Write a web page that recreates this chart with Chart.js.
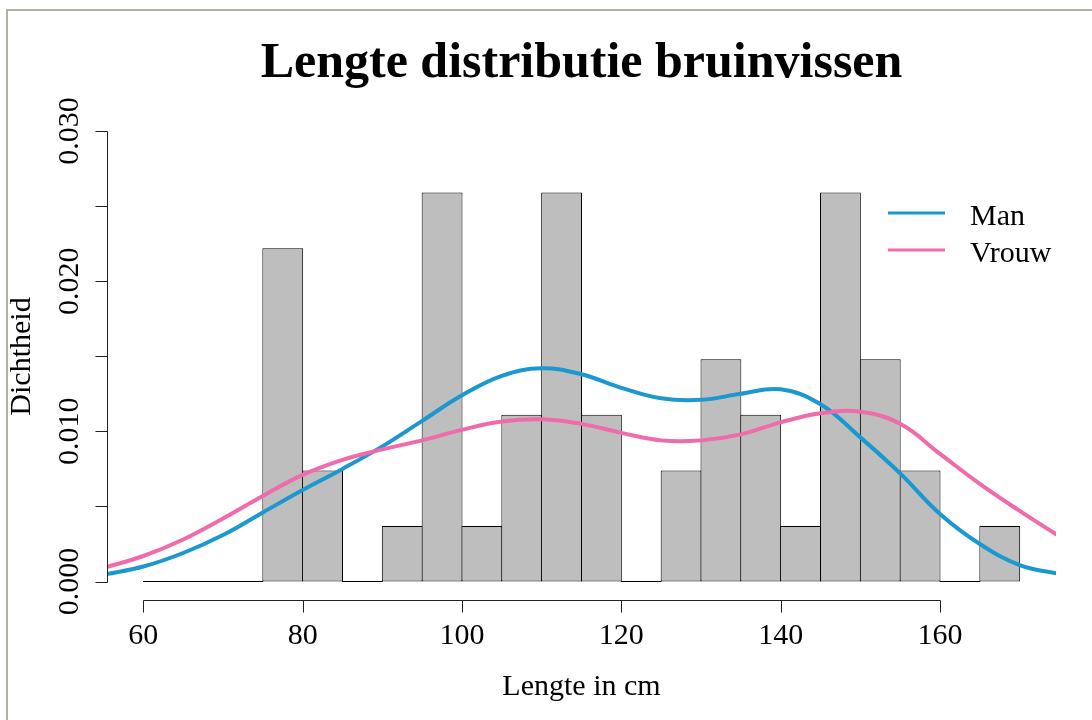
<!DOCTYPE html>
<html lang="nl">
<head>
<meta charset="UTF-8" />
<title>Lengte distributie bruinvissen</title>
<style>
  body { margin: 0; background: #fff; }
  #wrap { width: 1092px; height: 720px; }
</style>
</head>
<body>
<div id="wrap"><canvas id="chart" width="1092" height="720"></canvas></div>

<script src="https://cdn.jsdelivr.net/npm/chart.js"></script>
<script>
  // Histogram: 5 cm bins from 60 to 170 (density)
  const binMids = [62.5, 67.5, 72.5, 77.5, 82.5, 87.5, 92.5, 97.5, 102.5, 107.5, 112.5,
                   117.5, 122.5, 127.5, 132.5, 137.5, 142.5, 147.5, 152.5, 157.5, 162.5, 167.5];
  const histDensity = [0, 0, 0, 0.0222, 0.0074, 0, 0.0037, 0.0259, 0.0037, 0.0111, 0.0259,
                       0.0111, 0, 0.0074, 0.0148, 0.0111, 0.0037, 0.0259, 0.0148, 0.0074, 0, 0.0037];

  // Density curves
  const densX = [55, 60, 65, 70, 75, 80, 85, 90, 95, 100, 105, 110, 115, 120,
                 125, 130, 135, 140, 145, 150, 155, 160, 165, 170, 175];
  const manY = [0.00045, 0.0010, 0.0019, 0.0031, 0.0046, 0.0061, 0.0075, 0.0090, 0.0107,
                0.0124, 0.0137, 0.0142, 0.0138, 0.0129, 0.0122, 0.0121, 0.0125, 0.0128,
                0.0118, 0.0096, 0.0072, 0.0045, 0.0025, 0.0011, 0.0005];
  const vrouwY = [0.0009, 0.0017, 0.0028, 0.0042, 0.0057, 0.0071, 0.0081, 0.0088, 0.0094,
                  0.0101, 0.01065, 0.0108, 0.0105, 0.0099, 0.0094, 0.0094, 0.0098, 0.0106,
                  0.0112, 0.0113, 0.0105, 0.0085, 0.0065, 0.0047, 0.003];

  // Axis ticks
  const xTicks = [60, 80, 100, 120, 140, 160];
  const yTicks = [0, 0.005, 0.01, 0.015, 0.02, 0.025, 0.03];
  const yTickLabels = ['0.000', '', '0.010', '', '0.020', '', '0.030'];

  const serif = "'Liberation Serif', 'Times New Roman', serif";
  const blue = '#1B98D0';
  const pink = '#EF6BAA';

  // R-style detached axes, frame and legend
  const rStyle = {
    id: 'rStyle',
    beforeDraw(chart) {
      const c = chart.ctx;
      c.save();
      c.fillStyle = '#fff';
      c.fillRect(0, 0, chart.width, chart.height);
      c.strokeStyle = '#b3b0a3';
      c.lineWidth = 2;
      c.beginPath();
      c.moveTo(6, 10); c.lineTo(chart.width, 10);
      c.moveTo(7, 9); c.lineTo(7, chart.height);
      c.stroke();
      c.restore();
    },
    afterDraw(chart) {
      const c = chart.ctx;
      const xs = chart.scales.x, ys = chart.scales.y;
      const area = chart.chartArea;
      c.save();
      c.strokeStyle = '#222';
      c.lineWidth = 1;

      // y axis
      const ax = Math.round(area.left) + 0.5;
      c.beginPath();
      c.moveTo(ax, Math.round(ys.getPixelForValue(yTicks[0])) + 0.5);
      c.lineTo(ax, Math.round(ys.getPixelForValue(yTicks[yTicks.length - 1])) + 0.5);
      yTicks.forEach(v => {
        const py = Math.round(ys.getPixelForValue(v)) + 0.5;
        c.moveTo(ax - 12, py); c.lineTo(ax, py);
      });
      c.stroke();
      c.fillStyle = '#000';
      c.font = '30px ' + serif;
      c.textAlign = 'center';
      c.textBaseline = 'middle';
      yTicks.forEach((v, i) => {
        if (!yTickLabels[i]) return;
        c.save();
        c.translate(area.left - 37, ys.getPixelForValue(v));
        c.rotate(-Math.PI / 2);
        c.fillText(yTickLabels[i], 0, 0);
        c.restore();
      });

      // x axis
      const ay = Math.round(area.bottom) + 0.5;
      c.beginPath();
      c.moveTo(Math.round(xs.getPixelForValue(xTicks[0])) + 0.5, ay);
      c.lineTo(Math.round(xs.getPixelForValue(xTicks[xTicks.length - 1])) + 0.5, ay);
      xTicks.forEach(v => {
        const px = Math.round(xs.getPixelForValue(v)) + 0.5;
        c.moveTo(px, ay); c.lineTo(px, ay + 12);
      });
      c.stroke();

      // legend
      const items = chart.data.datasets.filter(d => d.type === 'line')
        .sort((a, b) => a.legendRank - b.legendRank);
      c.textAlign = 'left';
      c.textBaseline = 'alphabetic';
      items.forEach((d, i) => {
        const y = area.top + 100 + i * 37;
        c.strokeStyle = d.borderColor;
        c.lineWidth = 3;
        c.beginPath();
        c.moveTo(area.right - 168, y);
        c.lineTo(area.right - 111, y);
        c.stroke();
        c.fillText(d.label, area.right - 86, y + 12);
      });
      c.restore();
    }
  };

  const ctx = document.getElementById('chart').getContext('2d');
  new Chart(ctx, {
    type: 'bar',
    data: {
      datasets: [
        {
          type: 'line', label: 'Vrouw', legendRank: 2,
          data: densX.map((x, i) => ({ x: x, y: vrouwY[i] })),
          borderColor: pink, borderWidth: 4, pointRadius: 0,
          tension: 0.4, fill: false, clip: 0, order: 0
        },
        {
          type: 'line', label: 'Man', legendRank: 1,
          data: densX.map((x, i) => ({ x: x, y: manY[i] })),
          borderColor: blue, borderWidth: 4, pointRadius: 0,
          tension: 0.4, fill: false, clip: 0, order: 1
        },
        {
          type: 'bar', label: 'hist',
          data: binMids.map((x, i) => ({ x: x, y: histDensity[i] })),
          backgroundColor: '#BEBEBE', borderColor: '#000', borderWidth: 1,
          borderSkipped: false, barPercentage: 1.025, categoryPercentage: 1,
          minBarLength: 1, order: 2
        }
      ]
    },
    options: {
      responsive: false,
      animation: false,
      events: [],
      layout: { padding: { left: 0, right: 36, top: 0, bottom: 0 } },
      scales: {
        x: {
          type: 'linear', min: 55.44, max: 174.56, offset: false,
          grid: { display: false, drawTicks: false },
          border: { display: false },
          afterBuildTicks: s => { s.ticks = xTicks.map(v => ({ value: v })); },
          afterFit: s => { s.height = 120; },
          ticks: { font: { family: serif, size: 30 }, color: '#000', padding: 18,
                   maxRotation: 0, autoSkip: false },
          title: { display: true, text: 'Lengte in cm', color: '#000',
                   font: { family: serif, size: 30 }, padding: { top: 0, bottom: 15 } }
        },
        y: {
          min: -0.00123, max: 0.0312,
          grid: { display: false },
          border: { display: false },
          ticks: { display: false },
          afterFit: s => { s.width = 107; },
          title: { display: true, text: 'Dichtheid', color: '#000',
                   font: { family: serif, size: 30 }, padding: { top: 4, bottom: 0 } }
        }
      },
      plugins: {
        legend: { display: false },
        tooltip: { enabled: false },
        title: {
          display: true, text: 'Lengte distributie bruinvissen', fullSize: false,
          color: '#000', font: { family: serif, size: 50, weight: 'bold' },
          padding: { top: 34, bottom: 19 }
        }
      }
    },
    plugins: [rStyle]
  });
</script>
</body>
</html>
